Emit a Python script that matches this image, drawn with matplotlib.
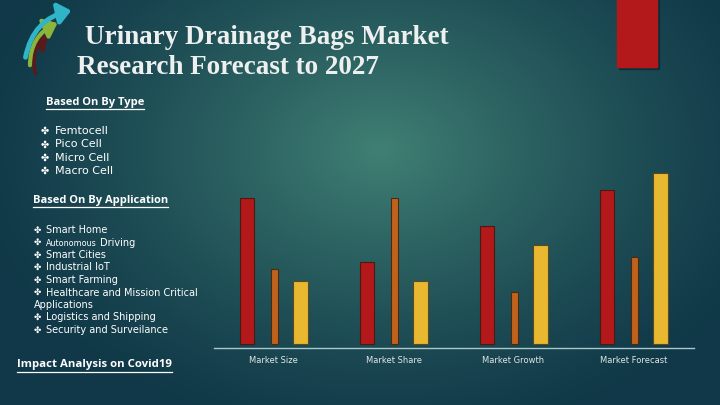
import numpy as np
import matplotlib
matplotlib.use("Agg")
import matplotlib.pyplot as plt
from matplotlib.patches import Rectangle, FancyArrowPatch

# data
categories = ["Market Size", "Market Share", "Market Growth", "Market Forecast"]
red_vals = [146, 82, 118, 154]
orange_vals = [75, 146, 52, 87]
yellow_vals = [63, 63, 99, 171]

type_items = ["Femtocell", "Pico Cell", "Micro Cell", "Macro Cell"]
app_items = ["Smart Home", "Autonomous Driving", "Smart Cities", "Industrial IoT",
             "Smart Farming", "Healthcare and Mission Critical", "Applications",
             "Logistics and Shipping", "Security and Surveilance"]

W, H = 720, 405
fig = plt.figure(figsize=(7.2, 4.05), dpi=100)

# background gradient
bg = fig.add_axes([0, 0, 1, 1])
yy, xx = np.mgrid[0:H, 0:W]
d = np.sqrt(((xx - 380) / 420.0) ** 2 + ((yy - 150) / 300.0) ** 2)
t = np.clip(1 - d, 0, 1) ** 1.3
dark = np.array([16, 56, 72]) / 255.0
light = np.array([64, 128, 116]) / 255.0
img = dark[None, None, :] * (1 - t[..., None]) + light[None, None, :] * t[..., None]
bg.imshow(img, extent=[0, W, H, 0], aspect="auto")
bg.set_xlim(0, W)
bg.set_ylim(H, 0)
bg.axis("off")

# top right red block
bg.add_patch(Rectangle((619, 0), 40, 69, color="#0a2530", alpha=0.6, zorder=2))
bg.add_patch(Rectangle((617, 0), 40, 67, color="#b3191a", zorder=3))

# logo arrows
for (x0, y0, x1, y1, c, lw) in [(36, 76, 50, 34, "#5a1a1a", 2.5),
                                 (30, 68, 60, 22, "#8cb43a", 3),
                                 (25, 60, 74, 10, "#2fb4c8", 3.5)]:
    bg.add_patch(FancyArrowPatch((x0, y0), (x1, y1), connectionstyle="arc3,rad=-0.35",
                                 arrowstyle="-|>,head_length=3,head_width=2.5",
                                 color=c, lw=lw, mutation_scale=2.5, zorder=4))

# title
bg.text(85, 37, "Urinary Drainage Bags Market", color="#eef0f0", fontsize=19.5,
        family="Liberation Serif", fontweight="bold", va="center", ha="left")
bg.text(77, 68, "Research Forecast to 2027", color="#eef0f0", fontsize=19.5,
        family="Liberation Serif", fontweight="bold", va="center", ha="left")

# left text
def heading(x, y, s, size):
    t = bg.text(x, y, s, color="white", fontsize=size, fontweight="bold",
                family="Open Sans", va="center", ha="left")
    fig.canvas.draw()
    w = t.get_window_extent().width
    bg.plot([x, x + w], [y + 7, y + 7], color="white", lw=0.9)

heading(46, 102, "Based On By Type", 8)
heading(33, 200, "Based On By Application", 8)
heading(17, 365, "Impact Analysis on Covid19", 8.2)

for i, s in enumerate(type_items):
    y = 131 + 13.4 * i
    bg.text(41, y, "\u2724", color="white", fontsize=7, family="DejaVu Sans",
            va="center", ha="left")
    bg.text(55, y, s, color="white", fontsize=8, family="DejaVu Sans",
            va="center", ha="left")

ys = [230, 242.5, 255, 267.5, 280, 292.5, 305, 317.5, 330]
for s, y in zip(app_items, ys):
    if s == "Applications":
        bg.text(34, y, s, color="white", fontsize=7, family="DejaVu Sans",
                va="center", ha="left")
        continue
    bg.text(34, y, "\u2724", color="white", fontsize=6.3, family="DejaVu Sans",
            va="center", ha="left")
    if s == "Autonomous Driving":
        t1 = bg.text(46, y + 0.5, "Autonomous", color="white", fontsize=5.8,
                     family="DejaVu Sans", va="center", ha="left")
        fig.canvas.draw()
        w = t1.get_window_extent().width
        bg.text(46 + w + 3, y, "Driving", color="white", fontsize=7,
                family="DejaVu Sans", va="center", ha="left")
    else:
        bg.text(46, y, s, color="white", fontsize=7, family="DejaVu Sans",
                va="center", ha="left")

# bar chart
ax = fig.add_axes([213.5 / W, (H - 348) / H, 480 / W, 184 / H])
ax.patch.set_alpha(0)
x = np.arange(len(categories))
ax.bar(x - 0.217, red_vals, width=0.117, color="#b3191a", edgecolor="#4a1a10", lw=0.8)
ax.bar(x + 0.005, orange_vals, width=0.058, color="#c0621c", edgecolor="#4a2a10", lw=0.8)
ax.bar(x + 0.225, yellow_vals, width=0.117, color="#e8b830", edgecolor="#5a4a20", lw=0.8)
ax.set_xlim(-0.5, 3.5)
ax.set_ylim(-4, 180)
for s in ["top", "right", "left"]:
    ax.spines[s].set_visible(False)
ax.spines["bottom"].set_color("#a8c8cc")
ax.spines["bottom"].set_linewidth(1)
ax.set_yticks([])
ax.set_xticks(x)
ax.set_xticklabels(categories, color="#dfe6e6", fontsize=6, family="DejaVu Sans")
ax.tick_params(axis="x", length=0, pad=6)

fig.savefig("out.png", dpi=100)
